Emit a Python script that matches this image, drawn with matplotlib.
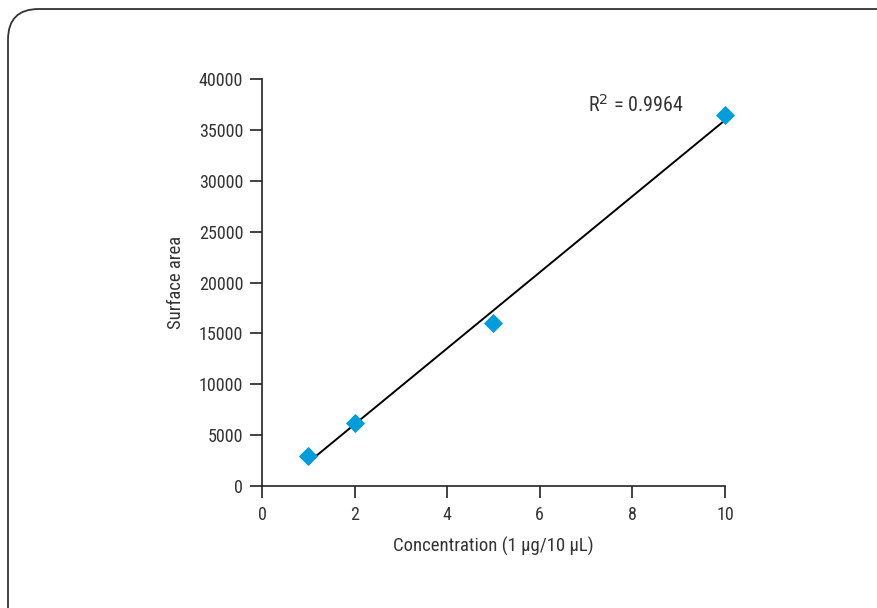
import numpy as np
import matplotlib
matplotlib.use("Agg")
import matplotlib.pyplot as plt
from matplotlib.patches import FancyBboxPatch
from matplotlib import font_manager

names = {f.name for f in font_manager.fontManager.ttflist}
fam = [n for n in ["Liberation Sans Narrow", "Roboto Condensed", "Open Sans Condensed"] if n in names] + ["DejaVu Sans"]
plt.rcParams['font.family'] = fam

conc = [1, 2, 5, 10]
area = [2900, 6200, 16000, 36500]
x_ticks = [0, 2, 4, 6, 8, 10]
y_ticks = [0, 5000, 10000, 15000, 20000, 25000, 30000, 35000, 40000]
r2_label = "R$^2$ = 0.9964"

fig = plt.figure(figsize=(8.78, 6.08), dpi=100)
box = FancyBboxPatch((8/878, -0.1), 1.1, 1 - 9/608 + 0.1,
                     boxstyle="round,pad=0,rounding_size=0.035",
                     transform=fig.transFigure, facecolor="white",
                     edgecolor="#333333", linewidth=1.3, mutation_aspect=878/608,
                     zorder=-5)
fig.patches.append(box)

ax = fig.add_axes([262/878, 1 - 486/608, (725 - 262)/878, (486 - 79)/608])
ax.set_facecolor("none")
ax.set_zorder(2)

slope, intercept = np.polyfit(conc, area, 1)
xl = np.array([min(conc), max(conc)])
ax.plot(xl, slope * xl + intercept, color="black", lw=1.4, zorder=2)
ax.scatter(conc, area, marker="D", s=95, color="#009ddc", zorder=3,
           linewidths=0, clip_on=False)

ax.set_xlim(0, 10)
ax.set_ylim(0, 40000)
ax.set_xticks(x_ticks)
ax.set_yticks(y_ticks)
for s in ["top", "right"]:
    ax.spines[s].set_visible(False)
for s in ["left", "bottom"]:
    ax.spines[s].set_color("#222222")
    ax.spines[s].set_linewidth(1.2)
ax.tick_params(direction="out", length=8.5, width=1.2, colors="#222222",
               labelsize=13, labelcolor="#333333")
ax.tick_params(axis="x", pad=6)
ax.tick_params(axis="y", pad=5)
ax.set_xlabel("Concentration (1 µg/10 µL)", fontsize=13.5, color="#333333", labelpad=9)
ax.set_ylabel("Surface area", fontsize=13.5, color="#333333", labelpad=10)
ax.text(7.04, 37500, r2_label, fontsize=14.5, color="#333333", va="center")

fig.savefig("out.png", dpi=100)
